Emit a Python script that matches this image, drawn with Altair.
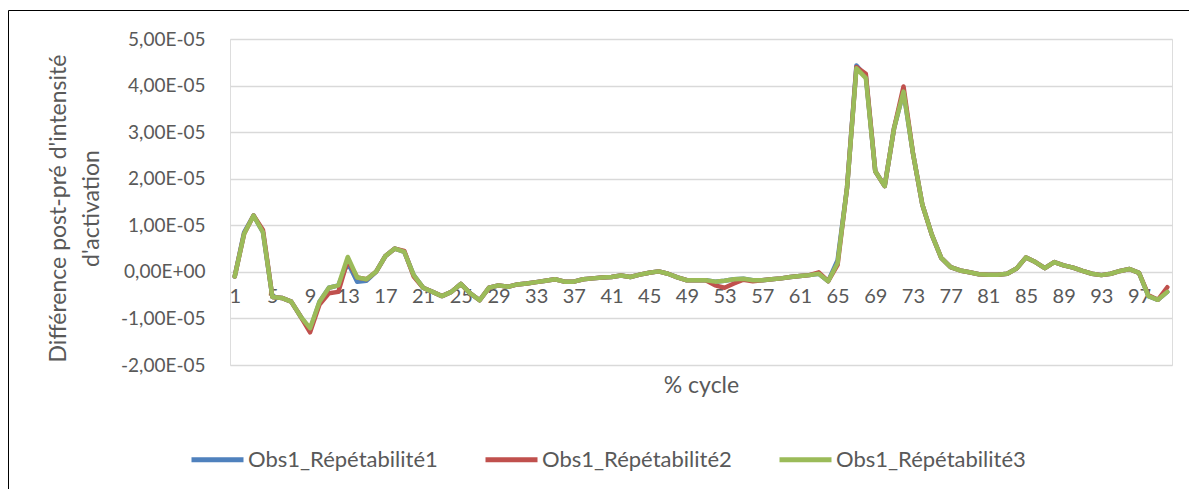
import altair as alt
import pandas as pd

# % cycle categories
cycle = list(range(1, 101))

# values in units of 1e-5
obs1 = [-0.10, 0.85, 1.21, 0.85, -0.54, -0.56, -0.64, -0.96, -1.25, -0.64,
        -0.34, -0.29, 0.20, -0.21, -0.19, 0.00, 0.34, 0.50, 0.43, -0.07,
        -0.34, -0.43, -0.52, -0.43, -0.26, -0.46, -0.61, -0.34, -0.29, -0.32,
        -0.27, -0.25, -0.22, -0.19, -0.16, -0.21, -0.21, -0.16, -0.14, -0.12,
        -0.11, -0.08, -0.11, -0.06, -0.02, 0.01, -0.04, -0.12, -0.18, -0.18,
        -0.18, -0.21, -0.19, -0.16, -0.15, -0.18, -0.18, -0.16, -0.14, -0.11,
        -0.09, -0.07, -0.04, -0.20, 0.25, 1.80, 4.43, 4.20, 2.16, 1.84,
        3.09, 3.87, 2.55, 1.44, 0.80, 0.30, 0.10, 0.03, -0.01, -0.05,
        -0.06, -0.06, -0.04, 0.07, 0.31, 0.21, 0.08, 0.21, 0.14, 0.09,
        0.02, -0.04, -0.07, -0.04, 0.02, 0.06, -0.02, -0.52, -0.60, -0.43]

obs2 = [-0.10, 0.82, 1.21, 0.90, -0.54, -0.56, -0.64, -0.96, -1.30, -0.70,
        -0.46, -0.43, 0.25, -0.12, -0.16, 0.00, 0.34, 0.50, 0.45, -0.10,
        -0.34, -0.43, -0.52, -0.43, -0.26, -0.46, -0.61, -0.34, -0.29, -0.32,
        -0.27, -0.25, -0.22, -0.19, -0.16, -0.21, -0.21, -0.16, -0.14, -0.12,
        -0.11, -0.08, -0.11, -0.06, -0.02, 0.01, -0.04, -0.12, -0.18, -0.18,
        -0.18, -0.29, -0.34, -0.25, -0.17, -0.20, -0.18, -0.16, -0.14, -0.11,
        -0.09, -0.07, -0.01, -0.20, 0.15, 1.80, 4.40, 4.25, 2.16, 1.84,
        3.09, 3.98, 2.55, 1.44, 0.80, 0.30, 0.10, 0.03, -0.01, -0.05,
        -0.06, -0.06, -0.04, 0.07, 0.31, 0.21, 0.08, 0.21, 0.14, 0.09,
        0.02, -0.04, -0.07, -0.04, 0.02, 0.06, -0.02, -0.50, -0.60, -0.33]

obs3 = [-0.10, 0.82, 1.21, 0.85, -0.54, -0.56, -0.64, -0.96, -1.21, -0.64,
        -0.34, -0.29, 0.32, -0.12, -0.16, 0.00, 0.34, 0.50, 0.43, -0.07,
        -0.34, -0.43, -0.52, -0.43, -0.26, -0.46, -0.61, -0.34, -0.29, -0.32,
        -0.27, -0.25, -0.22, -0.19, -0.16, -0.21, -0.21, -0.16, -0.14, -0.12,
        -0.11, -0.08, -0.11, -0.06, -0.02, 0.01, -0.04, -0.12, -0.18, -0.18,
        -0.18, -0.21, -0.19, -0.16, -0.15, -0.18, -0.18, -0.16, -0.14, -0.11,
        -0.09, -0.07, -0.04, -0.20, 0.19, 1.80, 4.37, 4.16, 2.16, 1.84,
        3.09, 3.87, 2.55, 1.44, 0.80, 0.30, 0.10, 0.03, -0.01, -0.05,
        -0.06, -0.06, -0.04, 0.07, 0.31, 0.21, 0.08, 0.21, 0.14, 0.09,
        0.02, -0.04, -0.07, -0.04, 0.02, 0.06, -0.02, -0.52, -0.60, -0.43]

series_names = ["Obs1_Répétabilité1", "Obs1_Répétabilité2", "Obs1_Répétabilité3"]
series_colors = ["#4F81BD", "#C0504D", "#9BBB59"]
x_ticks = [1, 5, 9, 13, 17, 21, 25, 29, 33, 37, 41, 45, 49, 53, 57, 61, 65, 69, 73, 77, 81, 85, 89, 93, 97]
y_ticks = [-2e-5, -1e-5, 0.0, 1e-5, 2e-5, 3e-5, 4e-5, 5e-5]

rows = []
for name, vals in zip(series_names, [obs1, obs2, obs3]):
    for c, v in zip(cycle, vals):
        rows.append({"cycle": c, "serie": name, "valeur": v * 1e-5})
df = pd.DataFrame(rows)

FONT = "Lato"
GREY = "#595959"

y_label_expr = ("datum.value == 0 ? '0,00E+00' : (datum.value < 0 ? '-' : '') + "
                "replace(format(abs(datum.value)*1e5, '.2f'), '.', ',') + 'E-05'")

lines = alt.Chart(df).mark_line(strokeWidth=4.5, strokeCap="round", strokeJoin="round").encode(
    x=alt.X("cycle:Q",
            scale=alt.Scale(domain=[0.5, 100.5], nice=False, zero=False),
            axis=alt.Axis(values=x_ticks, format="d", title="% cycle", grid=False, domain=False,
                          ticks=False, tickSize=0, offset=-93, labelPadding=14, labelFontSize=20,
                          labelFlush=False, labelOverlap=False, labelColor=GREY, labelFont=FONT,
                          titleFont=FONT, titleFontSize=23, titleFontWeight="normal", titleColor=GREY,
                          titleY=113, titleBaseline="middle")),
    y=alt.Y("valeur:Q",
            scale=alt.Scale(domain=[-2e-5, 5e-5], nice=False, zero=False),
            axis=alt.Axis(values=y_ticks,
                          labelExpr=y_label_expr,
                          title=["Différence post-pré d'intensité", "d'activation"],
                          grid=True, gridColor="#D9D9D9", gridWidth=1.3, domain=False, ticks=False,
                          tickSize=0, labelPadding=25, labelFontSize=19, labelColor=GREY, labelFont=FONT,
                          titleFont=FONT, titleFontSize=23, titleFontWeight="normal", titleColor=GREY,
                          titleX=-172, titleY=169, titleLineHeight=33, titleBaseline="middle",
                          titleAlign="center", titleAngle=270)),
    color=alt.Color("serie:N",
                    scale=alt.Scale(domain=series_names, range=series_colors),
                    legend=alt.Legend(title=None, orient="none", legendX=-41, legendY=392,
                                      direction="horizontal", symbolType="stroke", symbolSize=2704,
                                      symbolStrokeWidth=5, labelFontSize=22, labelFont=FONT,
                                      labelLimit=0, labelColor=GREY, labelOffset=2, columnPadding=37,
                                      padding=0)),
)

frame_df = pd.DataFrame({"k": [0]})
frame_left = alt.Chart(frame_df).mark_rule(stroke="black", strokeWidth=1).encode(
    x=alt.value(-221.5), y=alt.value(-28.5), y2=alt.value(460)
)
frame_top = alt.Chart(frame_df).mark_rule(stroke="black", strokeWidth=1).encode(
    x=alt.value(-221.5), x2=alt.value(980), y=alt.value(-28.5)
)

chart = alt.layer(frame_left, frame_top, lines).properties(
    width=942, height=326,
    autosize=alt.AutoSizeParams(type="none"),
    padding={"left": 222, "top": 31, "right": 17, "bottom": 124},
).configure_view(stroke=None).configure(background="white")

chart.save("out.html", embed_options={"renderer": "svg", "actions": False})
